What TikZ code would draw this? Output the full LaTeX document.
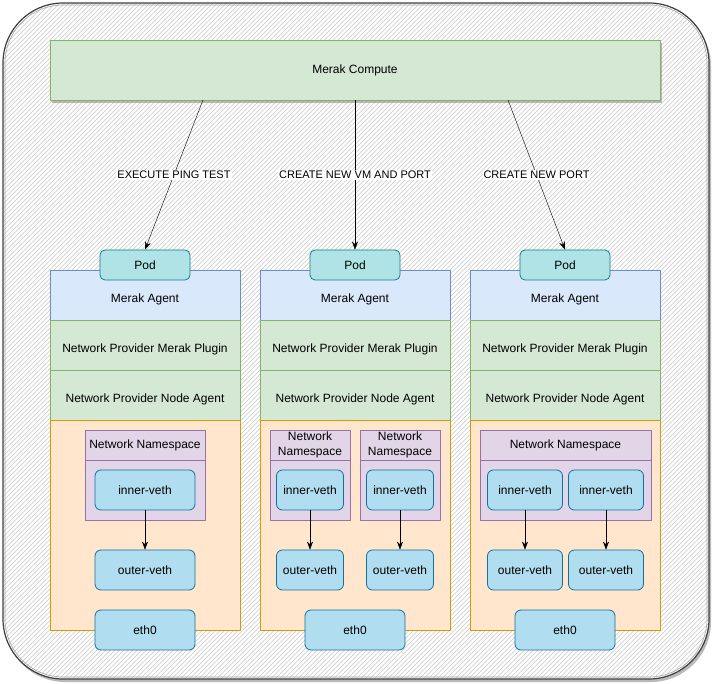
\documentclass[tikz,border=0pt]{standalone}
\usepackage{fontspec}
\setmainfont{Liberation Sans}
\usetikzlibrary{arrows.meta,shadows}
\definecolor{greenfill}{HTML}{D5E8D4}
\definecolor{greenline}{HTML}{82B366}
\definecolor{bluefill}{HTML}{DAE8FC}
\definecolor{blueline}{HTML}{6C8EBF}
\definecolor{orangefill}{HTML}{FFE6CC}
\definecolor{orangeline}{HTML}{D79B00}
\definecolor{purplefill}{HTML}{E1D5E7}
\definecolor{purpleline}{HTML}{9673A6}
\definecolor{tealfill}{HTML}{B0E3E6}
\definecolor{tealline}{HTML}{0E8088}
\definecolor{vethfill}{HTML}{B1DDF0}
\definecolor{vethline}{HTML}{10739E}
\tikzset{
  block/.style={rectangle, line width=0.8pt, inner sep=2pt, align=center},
  computebox/.style={block, fill=greenfill, draw=greenline, minimum width=610pt, minimum height=60pt,
    drop shadow={shadow xshift=2pt, shadow yshift=-3pt, fill=black!45, opacity=0.6}},
  agentbox/.style={block, fill=bluefill, draw=blueline, minimum width=190pt, minimum height=50pt,
    text height=15pt, text depth=0pt},
  pluginbox/.style={block, fill=greenfill, draw=greenline, minimum width=190pt, minimum height=50pt,
    text height=15pt, text depth=0pt},
  hostbox/.style={block, fill=orangefill, draw=orangeline, minimum width=190pt, minimum height=210pt},
  podbox/.style={block, rounded corners=5pt, fill=tealfill, draw=tealline, minimum width=90pt, minimum height=30pt},
  nsbox/.style={block, fill=purplefill, draw=purpleline, minimum height=90pt},
  nshead/.style={block, draw=purpleline, minimum height=30pt, inner sep=0pt, font=\fontsize{12}{15.5}\selectfont},
  vethbox/.style={block, rounded corners=6pt, fill=vethfill, draw=vethline, minimum height=40pt},
  steplabel/.style={fill=white, inner sep=1pt, font=\fontsize{11}{13}\selectfont},
}
\begin{document}
\begin{tikzpicture}[x=1pt, y=-1pt, font=\fontsize{12}{14}\selectfont, line join=round, >={Stealth[length=8pt,width=6pt]}]
  \useasboundingbox (0,0) rectangle (713,684);
  % hatched frame
  \fill[white, rounded corners=60pt, drop shadow={shadow xshift=2pt, shadow yshift=-3pt, fill=black!45, opacity=0.6}] (3,3) rectangle (709,679);
  \begin{scope}
    \clip[rounded corners=60pt] (3,3) rectangle (709,679);
    \foreach \i in {-684,-679.5,...,713}
      \draw[black!22, line width=0.5pt] (\i,684) -- ++(684,-684);
  \end{scope}
  \draw[black!35, line width=0.6pt, rounded corners=58pt] (5,5) rectangle (707,677);
  \draw[black!75, line width=1.2pt, rounded corners=60pt] (3,3) rectangle (709,679);

  \node[computebox] (compute) at (355,70) {Merak Compute};

  % the three hosts
  \foreach \c/\x in {1/145, 2/355, 3/565} {
    \node[agentbox] (agent\c) at (\x,295) {Merak Agent};
    \node[pluginbox] (plugin\c) at (\x,345) {Network Provider Merak Plugin};
    \node[pluginbox] (nodeagent\c) at (\x,395) {Network Provider Node Agent};
    \node[hostbox] (host\c) at (\x,525) {};
    \node[podbox] (pod\c) at (\x,265) {Pod};
    \node[vethbox, minimum width=100pt] (eth\c) at (\x,630) {eth0};
  }

  % namespaces
  \node[nsbox, minimum width=120pt] (ns1) at (145,475) {};
  \node[nshead, minimum width=120pt, anchor=north] (ns1head) at (ns1.north) {Network Namespace};
  \node[nsbox, minimum width=80pt] (ns2a) at (310,475) {};
  \node[nshead, minimum width=80pt, anchor=north] (ns2ahead) at (ns2a.north) {Network\\Namespace};
  \node[nsbox, minimum width=80pt] (ns2b) at (400,475) {};
  \node[nshead, minimum width=80pt, anchor=north] (ns2bhead) at (ns2b.north) {Network\\Namespace};
  \node[nsbox, minimum width=171pt] (ns3) at (565.5,475) {};
  \node[nshead, minimum width=171pt, anchor=north] (ns3head) at (ns3.north) {Network Namespace};

  % veth pairs
  \node[vethbox, minimum width=100pt] (inner1) at (145,490) {inner-veth};
  \node[vethbox, minimum width=100pt] (outer1) at (145,570) {outer-veth};
  \node[vethbox, minimum width=67pt] (inner2a) at (310,490) {inner-veth};
  \node[vethbox, minimum width=67pt] (outer2a) at (310,570) {outer-veth};
  \node[vethbox, minimum width=67pt] (inner2b) at (400,490) {inner-veth};
  \node[vethbox, minimum width=67pt] (outer2b) at (400,570) {outer-veth};
  \node[vethbox, minimum width=75pt] (inner3a) at (525,490) {inner-veth};
  \node[vethbox, minimum width=75pt] (outer3a) at (525,570) {outer-veth};
  \node[vethbox, minimum width=75pt] (inner3b) at (606,490) {inner-veth};
  \node[vethbox, minimum width=75pt] (outer3b) at (606,570) {outer-veth};

  \draw[->] (inner1) -- (outer1);
  \draw[->] (inner2a) -- (outer2a);
  \draw[->] (inner2b) -- (outer2b);
  \draw[->] (inner3a) -- (outer3a);
  \draw[->] (inner3b) -- (outer3b);

  % calls from compute
  \coordinate (src1) at (203,100);
  \coordinate (src2) at (355,100);
  \coordinate (src3) at (508,100);
  \draw[->] (src1) -- (pod1.north) node[midway, steplabel] {EXECUTE PING TEST};
  \draw[->] (src2) -- (pod2.north) node[midway, steplabel] {CREATE NEW VM AND PORT};
  \draw[->] (src3) -- (pod3.north) node[midway, steplabel] {CREATE NEW PORT};
\end{tikzpicture}
\end{document}
